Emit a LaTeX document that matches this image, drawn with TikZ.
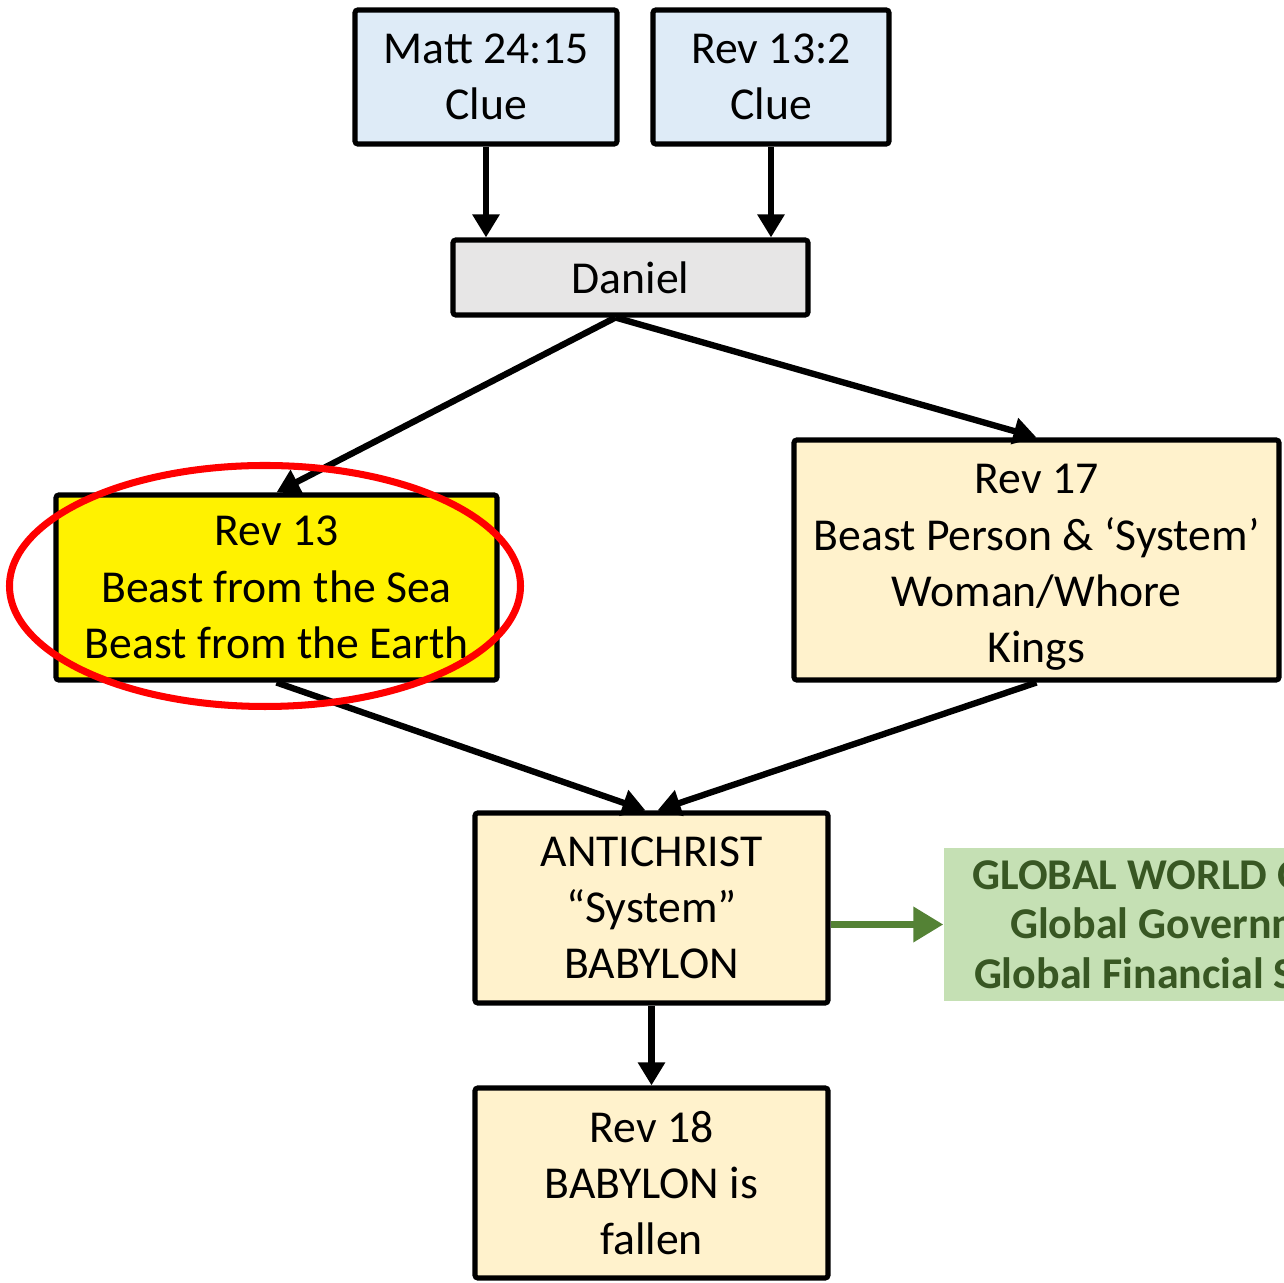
\documentclass[tikz,border=0pt]{standalone}
\usepackage{fontspec}
\setmainfont{Carlito}
\usetikzlibrary{arrows.meta}
\definecolor{clueblue}{HTML}{DEEBF7}
\definecolor{danielgray}{HTML}{E7E6E6}
\definecolor{revcream}{HTML}{FFF2CC}
\definecolor{globalgreen}{HTML}{C5E0B4}
\definecolor{globaltext}{HTML}{385723}
\definecolor{globalarrow}{HTML}{548235}

\begin{document}
\begin{tikzpicture}[
  box/.style={draw=black, line width=1.45pt, rounded corners=0.8pt, inner sep=0pt, align=center, font=\fontsize{13}{16}\selectfont},
  arr/.style={line width=1.8pt, -{Triangle[length=0.23cm,width=0.26cm]}},
]
\path[use as bounding box, clip] (0,0) rectangle (12.84,-12.83);

%clue boxes
\node[box, fill=clueblue, minimum width=2.62cm, minimum height=1.34cm] (matt) at (4.86,-0.77) {Matt 24:15\\Clue};
\node[box, fill=clueblue, minimum width=2.36cm, minimum height=1.34cm] (revclue) at (7.71,-0.77) {Rev 13:2\\Clue};

\node[box, fill=danielgray, minimum width=3.55cm, minimum height=0.75cm] (daniel) at (6.305,-2.775) {Daniel};

\node[box, fill=yellow, minimum width=4.41cm, minimum height=1.85cm] (revthirteen) at (2.765,-5.875) {Rev 13\\Beast from the Sea\\Beast from the Earth};
\node[box, fill=revcream, minimum width=4.85cm, minimum height=2.40cm] (revseventeen) at (10.365,-5.60) {\\[-0.12cm]Rev 17\\Beast Person \& ‘System’\\Woman/Whore\\Kings};

\node[box, fill=revcream, minimum width=3.53cm, minimum height=1.90cm] (antichrist) at (6.515,-9.08) {ANTICHRIST\\“System”\\BABYLON};
\node[box, fill=revcream, minimum width=3.53cm, minimum height=1.90cm] (reveighteen) at (6.515,-11.83) {Rev 18\\BABYLON is\\fallen};

\node[fill=globalgreen, text=globaltext, inner sep=0pt, align=center, minimum width=4.9cm, minimum height=1.53cm, font=\bfseries\fontsize{12.5}{14.2}\selectfont] (globalorder) at (11.89,-9.245) {\\[-0.14cm]GLOBAL WORLD ORDER\\Global Government\\Global Financial System};

\draw[arr] (matt.south) -- (matt.south |- daniel.north);
\draw[arr] (revclue.south) -- (revclue.south |- daniel.north);
\draw[arr] ([xshift=-0.15cm]daniel.south) -- (revthirteen.north);
\draw[arr] ([xshift=-0.15cm]daniel.south) -- (revseventeen.north);
\draw[arr] (revthirteen.south) -- ([xshift=-0.06cm]antichrist.north);
\draw[arr] (revseventeen.south) -- ([xshift=0.06cm]antichrist.north);
\draw[arr] (antichrist.south) -- (reveighteen.north);
\draw[globalarrow, line width=2pt, -{Triangle[length=0.3cm,width=0.34cm]}] (antichrist.east |- globalorder.west) -- (globalorder.west);

%red ring
\draw[red, line width=2pt] (2.65,-5.86) ellipse (2.555cm and 1.205cm);
\end{tikzpicture}
\end{document}
